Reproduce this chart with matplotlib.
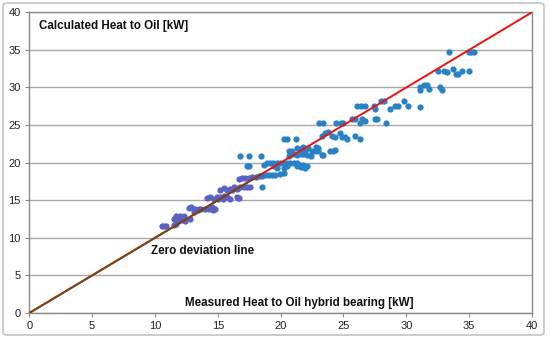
import matplotlib
matplotlib.use("Agg")
import matplotlib.pyplot as plt
from matplotlib.patches import FancyBboxPatch

# measured (x) and calculated (y) heat to oil, kW
measured = [
    10.55, 10.7, 10.9, 11.5, 11.7,
    11.5, 11.6, 11.7, 12.0, 12.3, 12.0, 12.2, 12.4, 12.8, 11.9, 12.1,
    12.7, 12.9, 13.2, 13.5, 13.7, 14.0, 14.3, 14.5, 14.8, 13.1, 13.4, 14.6,
    14.1, 14.4, 14.7, 14.9, 15.2, 15.5, 15.7, 16.0, 16.5, 16.7, 15.0, 15.4, 16.6,
    15.2, 15.5, 15.7, 16.0, 16.3, 16.5, 16.8, 17.05, 17.3, 17.6, 16.1, 16.6,
    16.65, 16.9, 17.2, 17.45, 17.7, 18.0, 18.24, 18.5, 18.8, 19.04, 19.3, 19.57, 19.97, 20.23, 18.5,
    17.3, 17.5, 18.64, 18.9, 19.17, 19.43, 19.7, 19.97, 20.23, 20.5, 20.77, 21.03, 21.3, 21.56, 21.8, 22.1,
    19.5, 19.7, 20.3, 20.5, 21.3, 21.6, 21.9,
    16.8, 17.45, 18.4,
    20.63, 20.9, 21.3, 21.56, 21.7, 21.96, 22.2, 22.5, 22.76, 23.0, 23.95, 24.2,
    20.7, 21.0, 21.3, 21.6, 21.8, 22.1, 22.4, 23.3, 23.4, 22.8, 23.0, 21.8, 24.35,
    20.25, 20.5, 21.25,
    23.3, 23.55, 23.8, 24.1, 24.35, 24.75, 24.9, 25.15, 25.3, 25.95, 26.35,
    23.05, 23.4, 24.4, 24.8, 25.0, 25.7, 25.95, 26.35, 26.5, 26.75, 27.5, 27.7, 28.35,
    26.1, 26.4, 26.7, 27.4, 27.5, 28.0, 28.2, 28.7, 29.1, 29.3, 29.8, 30.1, 31.1,
    31.06, 31.1, 31.4, 31.65, 31.8, 32.66, 32.8,
    32.5, 33.0, 33.2, 33.7, 33.97, 34.1, 34.4, 35.0,
    33.4, 34.95, 35.15, 35.35,
]
calculated = [
    11.6, 11.6, 11.6, 11.7, 11.8,
    12.5, 12.7, 12.9, 12.9, 12.9, 12.5, 12.7, 12.3, 12.5, 12.4, 12.4,
    14.0, 14.1, 13.9, 13.9, 13.8, 13.9, 13.9, 14.1, 13.9, 13.5, 13.7, 13.7,
    15.3, 15.4, 15.2, 15.4, 15.4, 15.5, 15.4, 15.2, 15.4, 15.3, 15.1, 15.2, 15.3,
    16.4, 16.6, 16.4, 16.5, 16.7, 16.5, 16.7, 16.8, 16.7, 16.8, 16.3, 16.6,
    17.8, 17.9, 18.0, 18.0, 18.1, 18.1, 18.2, 18.2, 18.35, 18.35, 18.35, 18.4, 18.5, 18.6, 16.8,
    19.5, 19.5, 19.7, 19.9, 19.9, 20.0, 20.0, 19.9, 19.9, 20.0, 19.9, 19.9, 19.9, 19.7, 19.7, 19.6,
    19.5, 19.3, 19.3, 19.5, 19.5, 19.4, 19.3,
    20.9, 20.9, 20.9,
    21.6, 21.6, 21.9, 21.6, 21.9, 21.7, 21.9, 21.6, 21.5, 21.6, 21.6, 21.6,
    20.9, 21.1, 21.0, 21.1, 21.1, 21.0, 20.9, 21.0, 21.0, 22.1, 21.9, 22.1, 21.7,
    23.1, 23.1, 23.1,
    23.5, 23.9, 24.1, 23.5, 23.4, 23.9, 23.4, 23.4, 23.2, 23.5, 23.2,
    25.3, 25.3, 25.3, 25.3, 25.3, 25.8, 25.8, 25.3, 25.8, 25.5, 25.8, 25.8, 25.3,
    27.6, 27.6, 27.6, 27.6, 27.2, 28.2, 28.2, 27.2, 27.6, 27.6, 28.2, 27.5, 27.4,
    30.0, 29.7, 30.3, 30.3, 29.8, 30.0, 29.7,
    32.2, 32.2, 32.1, 32.4, 31.8, 31.8, 32.2, 32.2,
    34.7, 34.7, 34.7, 34.7,
]

zero_line = [0, 40]
axis_ticks = [0, 5, 10, 15, 20, 25, 30, 35, 40]
y_label = "Calculated Heat to Oil [kW]"
x_label = "Measured Heat to Oil hybrid bearing [kW]"
line_label = "Zero deviation line"

plt.rcParams['font.family'] = ['Liberation Sans', 'DejaVu Sans']

fig = plt.figure(figsize=(5.5, 3.42), dpi=100)
fig.patch.set_facecolor('white')
border = FancyBboxPatch((3 / 550, 7 / 342), 541 / 550, 332 / 342,
                        boxstyle="round,pad=0,rounding_size=0.008",
                        transform=fig.transFigure, fill=False,
                        edgecolor='#c4c4c4', linewidth=1.2)
fig.patches.append(border)

ax = fig.add_axes([29.3 / 550, 1 - 313 / 342, (532 - 29.3) / 550, (313 - 12.3) / 342])
ax.set_xlim(0, 40)
ax.set_ylim(0, 40)
ax.set_xticks(axis_ticks)
ax.set_yticks(axis_ticks)
ax.tick_params(axis='both', labelsize=8, colors='#222222', length=3, width=0.8,
               direction='out', pad=3)
ax.tick_params(axis='both', color='#8a8a8a')
ax.yaxis.grid(True, color='#a8a8a8', linewidth=1.0)
ax.set_axisbelow(True)
for side in ['left', 'bottom', 'right', 'top']:
    ax.spines[side].set_color('#8a8a8a')
    ax.spines[side].set_linewidth(1.0)

purple_x, purple_y, blue_x, blue_y = [], [], [], []
for xv, yv in zip(measured, calculated):
    if xv < 18.3 and yv < 19.0:
        purple_x.append(xv); purple_y.append(yv)
    else:
        blue_x.append(xv); blue_y.append(yv)

ax.plot(blue_x, blue_y, 'o', color='#2a82c4', markersize=4.5, markeredgewidth=0, zorder=3)
ax.plot(purple_x, purple_y, 'o', color='#5a62c2', markersize=4.5, markeredgewidth=0, zorder=3)
ax.plot(zero_line, zero_line, color='#ee1111', linewidth=1.4, zorder=4)
ax.plot([0, 18.5], [0, 18.5], color='#6e4a1a', linewidth=1.4, zorder=4)

ax.text(39 / 550, 1 - 26 / 342, y_label, transform=fig.transFigure, fontsize=8.4,
        fontweight='bold', va='center', ha='left', color='#111111')
ax.text(151 / 550, 1 - 251 / 342, line_label, transform=fig.transFigure, fontsize=8.4,
        fontweight='bold', va='center', ha='left', color='#111111')
ax.text(185 / 550, 1 - 303 / 342, x_label, transform=fig.transFigure, fontsize=8.4,
        fontweight='bold', va='center', ha='left', color='#111111')

fig.savefig('out.png', dpi=100, facecolor='white')
